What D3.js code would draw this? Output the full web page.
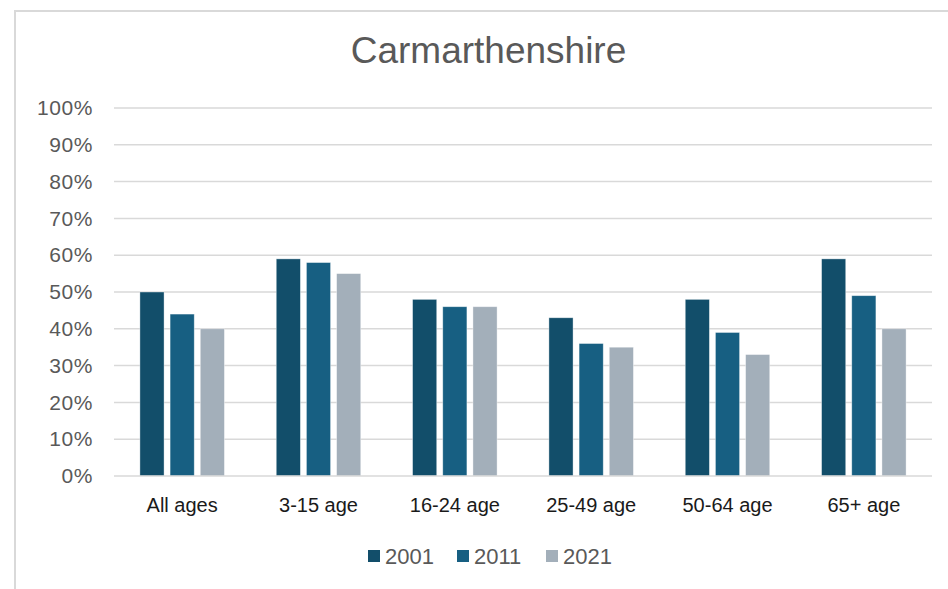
<!DOCTYPE html>
<html>
<head>
<meta charset="utf-8">
<script src="https://cdn.jsdelivr.net/npm/d3@7"></script>
<style>
  body { margin: 0; background: #fff; }
  svg { display: block; font-family: "Liberation Sans", Arial, sans-serif; }
</style>
</head>
<body>
<div id="chart"></div>
<script>
const categories = ['All ages', '3-15 age', '16-24 age', '25-49 age', '50-64 age', '65+ age'];
const years = ['2001', '2011', '2021'];
const values2001 = [50, 59, 48, 43, 48, 59];
const values2011 = [44, 58, 46, 36, 39, 49];
const values2021 = [40, 55, 46, 35, 33, 40];
const yTicks = [0, 10, 20, 30, 40, 50, 60, 70, 80, 90, 100];
const colors = ['#124e6a', '#175f82', '#a3afba'];

const W = 948, H = 589;
const margin = {top: 108, right: 16, bottom: 113, left: 114};
const width = 932 - margin.left;
const height = 476 - margin.top;
const groupW = 84.5;

const series = [values2001, values2011, values2021];
const data = categories.map((c, i) => ({cat: c, vals: series.map(s => s[i])}));

const svg = d3.select('#chart').append('svg')
  .attr('width', W)
  .attr('height', H);

// chart frame (runs off the right and bottom edges)
svg.append('rect')
  .attr('x', 15).attr('y', 11)
  .attr('width', W).attr('height', H)
  .attr('fill', 'none')
  .attr('stroke', '#d9d9d9')
  .attr('stroke-width', 2);

svg.append('text')
  .attr('x', 488.5).attr('y', 63)
  .attr('text-anchor', 'middle')
  .attr('font-size', 37)
  .attr('fill', '#595959')
  .text('Carmarthenshire');

const g = svg.append('g')
  .attr('transform', `translate(${margin.left},${margin.top})`);

const x0 = d3.scaleBand()
  .domain(categories)
  .range([0, width]);

const x1 = d3.scaleBand()
  .domain(years)
  .range([0, groupW])
  .paddingInner(0.2);

const y = d3.scaleLinear()
  .domain([0, 100])
  .range([height, 0]);

// gridlines
g.selectAll('.grid')
  .data(yTicks.filter(d => d > 0))
  .enter().append('line')
    .attr('class', 'grid')
    .attr('x1', 0).attr('x2', width)
    .attr('y1', d => y(d)).attr('y2', d => y(d))
    .attr('stroke', '#d9d9d9')
    .attr('stroke-width', 1.5);

const yAxis = d3.axisLeft(y)
  .tickValues(yTicks)
  .tickSize(0)
  .tickPadding(21)
  .tickFormat(d => d + '%');

g.append('g')
  .attr('class', 'y axis')
  .call(yAxis)
  .call(a => a.select('.domain').remove())
  .call(a => a.selectAll('text')
    .attr('font-size', 21)
    .attr('letter-spacing', 0.6)
    .attr('fill', '#595959')
    .attr('font-family', '"Liberation Sans", Arial, sans-serif'));

g.selectAll('.bar-group')
  .data(data)
  .enter().append('g')
    .attr('class', 'bar-group')
    .attr('transform', d => `translate(${x0(d.cat) + (x0.bandwidth() - groupW) / 2},0)`)
    .selectAll('rect')
    .data(d => d.vals)
    .enter().append('rect')
      .attr('x', (d, i) => x1(years[i]))
      .attr('y', d => y(d))
      .attr('width', x1.bandwidth())
      .attr('height', d => height - y(d))
      .attr('fill', (d, i) => colors[i])
      .attr('stroke', '#ffffff')
      .attr('stroke-opacity', 0.5)
      .attr('stroke-width', 0.75);

// baseline
g.append('line')
  .attr('x1', 0).attr('x2', width)
  .attr('y1', height).attr('y2', height)
  .attr('stroke', '#d9d9d9')
  .attr('stroke-width', 1.5);

const xAxis = d3.axisBottom(x0)
  .tickSize(0)
  .tickPadding(22);

g.append('g')
  .attr('class', 'x axis')
  .attr('transform', `translate(0,${height})`)
  .call(xAxis)
  .call(a => a.select('.domain').remove())
  .call(a => a.selectAll('text')
    .attr('font-size', 20)
    .attr('fill', '#1a1a1a')
    .attr('font-family', '"Liberation Sans", Arial, sans-serif'));

// legend
const legendX = [368, 457, 546];
const legend = svg.append('g').attr('class', 'legend');
const items = legend.selectAll('.legend-item')
  .data(years)
  .enter().append('g')
    .attr('class', 'legend-item')
    .attr('transform', (d, i) => `translate(${legendX[i]},556)`);
items.append('rect')
  .attr('x', 0).attr('y', -6)
  .attr('width', 12).attr('height', 12)
  .attr('fill', (d, i) => colors[i]);
items.append('text')
  .attr('x', 17).attr('y', 8)
  .attr('font-size', 22)
  .attr('fill', '#595959')
  .text(d => d);
</script>
</body>
</html>
